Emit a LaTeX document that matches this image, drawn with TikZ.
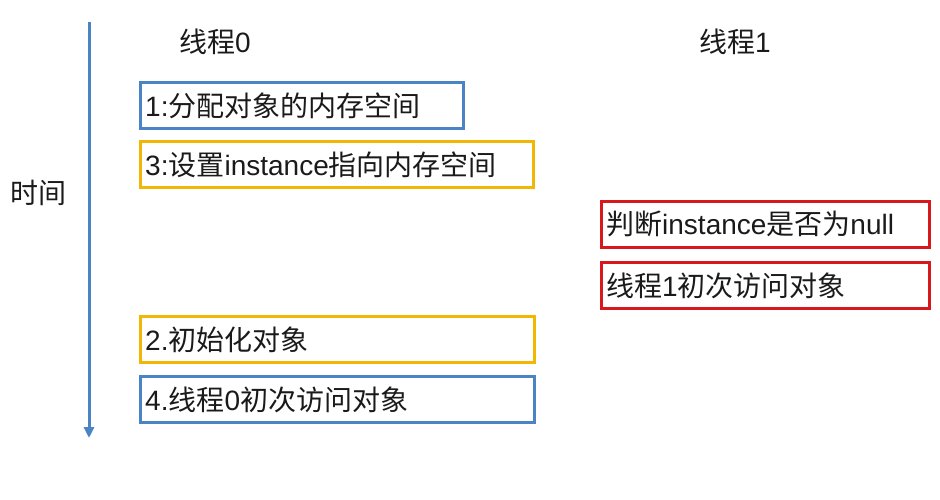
\documentclass[tikz,border=0pt]{standalone}
\usepackage{fontspec}
\setmainfont{Noto Sans CJK SC}
\newfontfamily\lat{Liberation Sans}
\usetikzlibrary{arrows.meta}
\definecolor{bblue}{HTML}{4A84C4}
\definecolor{byellow}{HTML}{F2B705}
\definecolor{bred}{HTML}{D7191E}
\definecolor{txt}{HTML}{1A1A1A}
\tikzset{
  box/.style={draw=#1, line width=2.8pt, minimum height=46pt, inner sep=0pt, anchor=north west},
  boxtext/.style={anchor=west, text=txt, font=\fontsize{28}{28}\selectfont, inner sep=0pt},
  lbl/.style={text=txt, font=\fontsize{28}{28}\selectfont, inner sep=0pt}
}
\begin{document}
\begin{tikzpicture}[x=1pt,y=-1pt]
\useasboundingbox (0,0) rectangle (940,500);
% time axis
\coordinate (ttop) at (89,22);
\coordinate (tbot) at (89,438);
\draw[bblue, line width=3pt, -{Triangle[length=11pt,width=10pt]}] (ttop) -- (tbot);
\node[lbl] (time) at (38,193) {时间};
\node[lbl, anchor=west] (t0) at (179,42) {线程{\lat 0}};
\node[lbl, anchor=west] (t1) at (699,42) {线程{\lat 1}};
% thread 0 boxes
\node[box=bblue, minimum width=323pt] (b1) at (139,81) {};
\node[boxtext] at ([xshift=6pt]b1.west) {{\lat 1:}分配对象的内存空间};
\node[box=byellow, minimum width=393pt] (b3) at (139,140) {};
\node[boxtext] at ([xshift=6pt]b3.west) {{\lat 3:}设置{\lat instance}指向内存空间};
\node[box=byellow, minimum width=394pt] (b2) at (139,315) {};
\node[boxtext] at ([xshift=6pt]b2.west) {{\lat 2.}初始化对象};
\node[box=bblue, minimum width=394pt] (b4) at (139,375) {};
\node[boxtext] at ([xshift=6pt]b4.west) {{\lat 4.}线程{\lat 0}初次访问对象};
% thread 1 boxes
\node[box=bred, minimum width=328pt] (r1) at (600,200) {};
\node[boxtext] at ([xshift=6pt]r1.west) {判断{\lat instance}是否为{\lat null}};
\node[box=bred, minimum width=328pt] (r2) at (600,261) {};
\node[boxtext] at ([xshift=6pt]r2.west) {线程{\lat 1}初次访问对象};
\end{tikzpicture}
\end{document}
